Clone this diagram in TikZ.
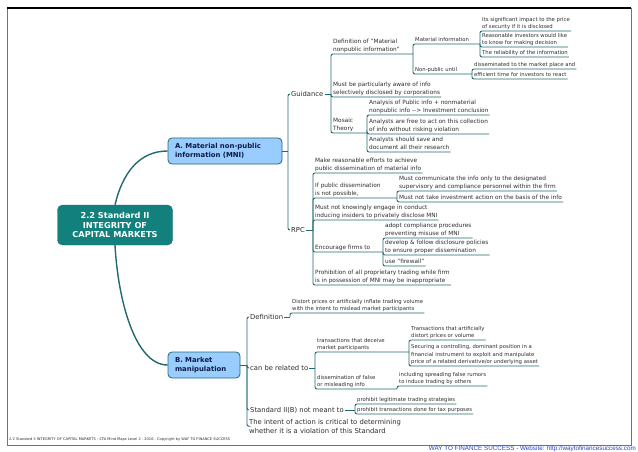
\documentclass[tikz,border=0pt]{standalone}
\usepackage{fontspec}
\setmainfont{DejaVu Sans}
\newfontfamily\footfont{Liberation Sans}

\definecolor{linkcol}{RGB}{35,105,112}
\definecolor{rootfill}{RGB}{18,128,124}
\definecolor{branchfill}{RGB}{153,204,255}
\definecolor{branchtext}{RGB}{15,25,70}
\definecolor{txtcol}{RGB}{45,45,45}
\definecolor{footblue}{RGB}{40,70,200}

\tikzset{
  link/.style={draw=linkcol, line width=0.9pt, rounded corners=2pt},
  trunk/.style={draw=linkcol, line width=1.4pt},
  rootbox/.style={fill=rootfill, draw=linkcol, rounded corners=5pt, text=white, align=center,
    font=\bfseries\fontsize{8.2}{9.6}\selectfont, minimum width=115pt, minimum height=40pt},
  branch/.style={fill=branchfill, draw=linkcol, line width=0.8pt, rounded corners=4pt, text=branchtext,
    align=left, font=\bfseries\fontsize{6.9}{9}\selectfont, inner xsep=7pt, minimum height=26pt},
  big/.style={font=\fontsize{6.8}{8.8}\selectfont, inner sep=1pt, text=txtcol},
  topic/.style={inner xsep=1pt, inner ysep=1pt, anchor=south west, align=left, text depth=1.2pt, text=txtcol},
  mid/.style={topic, font=\fontsize{5.8}{7.8}\selectfont},
  small/.style={topic, font=\fontsize{5.3}{7.4}\selectfont},
}

\begin{document}
\begin{tikzpicture}[x=1pt, y=-1pt]

\useasboundingbox (0,0) rectangle (638,452);
\fill[white] (0,0) rectangle (638,452);
\draw[black!55, line width=0.6pt] (7,8) rectangle (631,445);
\draw[black, line width=1.2pt] (7,8) -- (631,8);

% main topics
\node[rootbox] (root) at (115,225) {2.2 Standard II\\INTEGRITY OF\\CAPITAL MARKETS};
\node[branch, text width=100pt] (mni) at (225,151) {A. Material non-public\\information (MNI)};
\node[branch, text width=58pt] (manip) at (204,365) {B. Market\\manipulation};

\draw[trunk] (root.north) .. controls (122,175) and (138,151) .. (mni.west);
\draw[trunk] (root.south) .. controls (118,300) and (135,365) .. (manip.west);

% A. Material non-public information
\coordinate (ba) at (288,151);
\draw[link] (mni.east) -- (ba);

\node[big, anchor=west] (guid) at (290,94) {Guidance};
\node[big, anchor=west] (rpc) at (290,230) {RPC};
\draw[link] (ba) |- (guid.west);
\draw[link] (ba) |- (rpc.west);

% Guidance
\coordinate (bg) at (331,94);
\draw[link] (guid.east) -- (bg);

\node[mid] (defmni) at (332,54) {Definition of "Material\\nonpublic information"};
\coordinate (bdef) at (413,54);
\draw[link] (bg) |- (defmni.south east) -- (bdef);

\node[small] (matinfo) at (414,44) {Material information};
\coordinate (bmat) at (480,44);
\draw[link] (bdef) |- (matinfo.south east) -- (bmat);
\node[small] (impact) at (481,31) {Its significant impact to the price\\of security if it is disclosed};
\node[small] (reason) at (481,47) {Reasonable investors would like\\to know for making decision};
\node[small] (reliab) at (481,57) {The reliability of the information};
\foreach \n in {impact,reason,reliab}
  \draw[link] (bmat) |- (\n.south east);

\node[small] (nonpub) at (414,74) {Non-public until};
\coordinate (bnon) at (472,74);
\draw[link] (bdef) |- (nonpub.south east) -- (bnon);
\node[small] (dissem) at (473,69) {disseminated to the market place and};
\node[small] (effic) at (473,79) {efficient time for investors to react};
\foreach \n in {dissem,effic}
  \draw[link] (bnon) |- (\n.south east);

\node[mid] (aware) at (332,97) {Must be particularly aware of info\\selectively disclosed by corporations};
\draw[link] (bg) |- (aware.south east);

\node[mid] (mosaic) at (332,133) {Mosaic\\Theory};
\coordinate (bmos) at (367,133);
\draw[link] (bg) |- (mosaic.south east) -- (bmos);
\node[mid] (analysis) at (368,115) {Analysis of Public info + nonmaterial\\nonpublic info -{}-> Investment conclusion};
\node[mid] (free) at (368,134) {Analysts are free to act on this collection\\of info without risking violation};
\node[mid] (save) at (368,152) {Analysts should save and\\document all their research};
\foreach \n in {analysis,free,save}
  \draw[link] (bmos) |- (\n.south east);

% RPC
\coordinate (brpc) at (313,230);
\draw[link] (rpc.east) -- (brpc);

\node[mid] (effort) at (314,173) {Make reasonable efforts to achieve\\public dissemination of material info};
\node[mid] (ifpub) at (314,198) {If public dissemination\\is not possible,};
\node[mid] (knowing) at (314,220) {Must not knowingly engage in conduct\\inducing insiders to privately disclose MNI};
\node[mid] (encour) at (314,252) {Encourage firms to};
\node[mid] (prohib) at (314,285) {Prohibition of all proprietary trading while firm\\is in possession of MNI may be inappropriate};
\foreach \n in {effort,knowing,prohib}
  \draw[link] (brpc) |- (\n.south east);

\coordinate (bif) at (397,198);
\draw[link] (brpc) |- (ifpub.south east) -- (bif);
\node[mid] (commun) at (398,191) {Must communicate the info only to the designated\\supervisory and compliance personnel within the firm};
\node[mid] (notake) at (398,202) {Must not take investment action on the basis of the info};
\foreach \n in {commun,notake}
  \draw[link] (bif) |- (\n.south east);

\coordinate (benc) at (383,252);
\draw[link] (brpc) |- (encour.south east) -- (benc);
\node[mid] (adopt) at (384,238) {adopt compliance procedures\\preventing misuse of MNI};
\node[mid] (develop) at (384,255) {develop \& follow disclosure policies\\to ensure proper dissemination};
\node[mid] (firewall) at (384,266) {use "firewall"};
\foreach \n in {adopt,develop,firewall}
  \draw[link] (benc) |- (\n.south east);

% B. Market manipulation
\coordinate (bb) at (247,365);
\draw[link] (manip.east) -- (bb);

\node[big, anchor=west] (defin) at (249,317) {Definition};
\node[big, anchor=west] (related) at (249,368) {can be related to};
\node[big, anchor=west] (notmeant) at (249,410) {Standard II(B) not meant to};
\node[big, anchor=north west, align=left] (intent) at (248,418) {The intent of action is critical to determining\\whether it is a violation of this Standard};
\foreach \n in {defin,related,notmeant,intent}
  \draw[link] (bb) |- (\n.west);

\coordinate (bdefin) at (290,317);
\draw[link] (defin.east) -- (bdefin);
\node[small] (distort) at (291,313) {Distort prices or artificially inflate trading volume\\with the intent to mislead market participants};
\draw[link] (bdefin) |- (distort.south east);

\coordinate (brel) at (315,368);
\draw[link] (related.east) -- (brel);
\node[small] (deceive) at (316,352) {transactions that deceive\\market participants};
\node[small] (false) at (316,389) {dissemination of false\\or misleading info};

\coordinate (bdec) at (409,352);
\draw[link] (brel) |- (deceive.south east) -- (bdec);
\node[small] (artif) at (410,340) {Transactions that artificially\\distort prices or volume};
\node[small] (secur) at (410,366) {Securing a controlling, dominant position in a\\financial instrument to exploit and manipulate\\price of a related derivative/or underlying asset};
\foreach \n in {artif,secur}
  \draw[link] (bdec) |- (\n.south east);

\coordinate (bfalse) at (397,389);
\draw[link] (brel) |- (false.south east) -- (bfalse);
\node[small] (rumor) at (398,386) {including spreading false rumors\\to induce trading by others};
\draw[link] (bfalse) |- (rumor.south east);

\coordinate (bnot) at (355,410);
\draw[link] (notmeant.east) -- (bnot);
\node[small] (legit) at (356,404) {prohibit legitimate trading strategies};
\node[small] (taxp) at (356,414) {prohibit transactions done for tax purposes};
\foreach \n in {legit,taxp}
  \draw[link] (bnot) |- (\n.south east);

% footer
\node[anchor=west, inner sep=0pt, text=txtcol, font=\fontsize{3.6}{4}\selectfont] (foot) at (9,440)
  {2.2 Standard II INTEGRITY OF CAPITAL MARKETS - CFA Mind Maps Level 2 - 2016 - Copyright by WAY TO FINANCE SUCCESS};
\node[anchor=east, inner sep=0pt, text=footblue, font=\footfont\fontsize{6.3}{7}\selectfont] (site) at (636,449)
  {WAY TO FINANCE SUCCESS - Website: http://waytofinancesuccess.com};

\end{tikzpicture}
\end{document}
